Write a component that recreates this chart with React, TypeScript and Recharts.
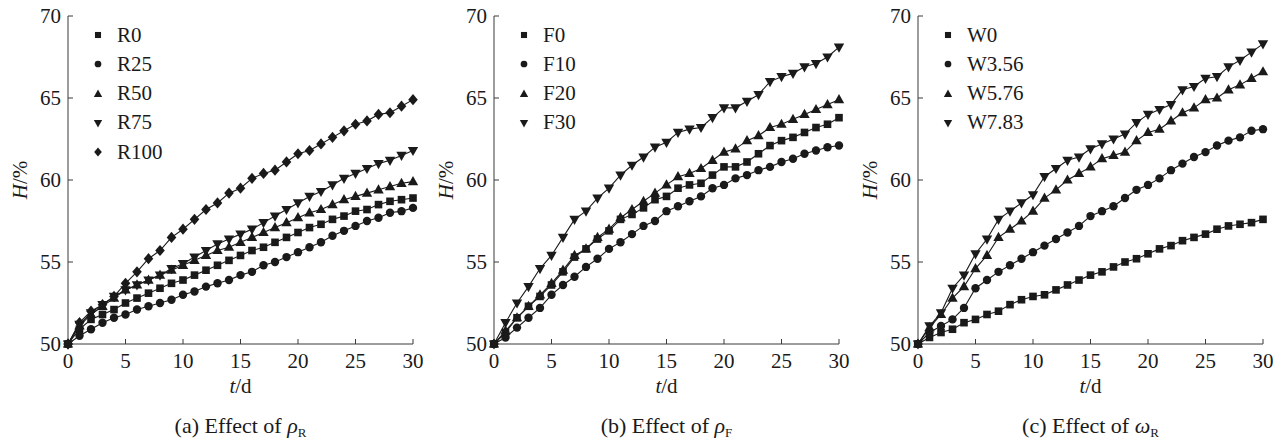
import React from 'react';
import { LineChart, Line, XAxis, YAxis, Legend } from 'recharts';

const days = [0, 1, 2, 3, 4, 5, 6, 7, 8, 9, 10, 11, 12, 13, 14, 15, 16, 17, 18, 19, 20, 21, 22, 23, 24, 25, 26, 27, 28, 29, 30];
const xTicks = [0, 5, 10, 15, 20, 25, 30];
const yTicks = [50, 55, 60, 65, 70];

// (a) Effect of rho_R
const R0 = [50, 50.9, 51.5, 51.8, 52.1, 52.5, 52.8, 53.1, 53.4, 53.7, 53.9, 54.2, 54.5, 54.8, 55.1, 55.4, 55.7, 55.9, 56.2, 56.5, 56.8, 57.1, 57.3, 57.6, 57.8, 58.1, 58.2, 58.5, 58.7, 58.8, 58.9];
const R25 = [50, 50.5, 50.9, 51.3, 51.6, 51.8, 52.1, 52.3, 52.5, 52.7, 53.0, 53.2, 53.5, 53.7, 53.9, 54.2, 54.4, 54.8, 55.0, 55.3, 55.6, 55.9, 56.2, 56.6, 56.9, 57.2, 57.5, 57.7, 58.0, 58.1, 58.3];
const R50 = [50, 51.1, 51.8, 52.3, 52.8, 53.3, 53.6, 53.9, 54.2, 54.5, 54.8, 55.1, 55.4, 55.7, 55.9, 56.2, 56.5, 56.8, 57.1, 57.4, 57.7, 58.0, 58.2, 58.5, 58.8, 59.0, 59.2, 59.4, 59.6, 59.8, 59.9];
const R75 = [50, 51.2, 51.9, 52.4, 52.9, 53.3, 53.6, 53.9, 54.2, 54.6, 54.9, 55.3, 55.7, 56.1, 56.4, 56.7, 57.0, 57.4, 57.8, 58.2, 58.6, 59.0, 59.3, 59.7, 60.1, 60.4, 60.7, 61.0, 61.2, 61.5, 61.8];
const R100 = [50, 51.3, 52.0, 52.4, 52.9, 53.7, 54.4, 55.2, 55.7, 56.5, 57.0, 57.6, 58.2, 58.6, 59.2, 59.5, 60.1, 60.4, 60.6, 61.1, 61.6, 61.8, 62.2, 62.6, 63.0, 63.4, 63.6, 64.0, 64.1, 64.5, 64.9];

// (b) Effect of rho_F
const F0 = [50, 50.7, 51.6, 52.3, 52.9, 53.6, 54.4, 55.3, 55.8, 56.4, 56.9, 57.6, 57.9, 58.3, 58.8, 59.0, 59.5, 59.7, 59.8, 60.3, 60.8, 60.8, 61.1, 61.6, 62.1, 62.4, 62.6, 62.9, 63.2, 63.4, 63.8];
const F10 = [50, 50.4, 51.0, 51.6, 52.2, 53.0, 53.6, 54.1, 54.7, 55.2, 55.8, 56.2, 56.7, 57.2, 57.5, 58.1, 58.4, 58.7, 59.0, 59.5, 59.7, 60.1, 60.3, 60.6, 60.8, 61.1, 61.3, 61.6, 61.8, 62.0, 62.1];
const F20 = [50, 50.8, 51.6, 52.3, 53.0, 53.7, 54.5, 55.4, 55.8, 56.5, 57.0, 57.7, 58.2, 58.7, 59.2, 59.7, 60.2, 60.4, 60.7, 61.2, 61.7, 61.9, 62.4, 62.7, 63.2, 63.4, 63.7, 64.0, 64.3, 64.6, 64.9];
const F30 = [50, 51.3, 52.5, 53.5, 54.6, 55.4, 56.5, 57.6, 58.1, 58.9, 59.5, 60.3, 60.9, 61.4, 62.0, 62.3, 62.9, 63.1, 63.2, 63.8, 64.4, 64.4, 64.8, 65.2, 66.0, 66.3, 66.5, 66.9, 67.1, 67.5, 68.1];

// (c) Effect of omega_R
const W0 = [50, 50.4, 50.7, 50.9, 51.3, 51.5, 51.8, 52.0, 52.4, 52.7, 52.9, 53.0, 53.3, 53.6, 53.9, 54.2, 54.4, 54.7, 55.0, 55.2, 55.5, 55.8, 56.0, 56.3, 56.5, 56.7, 57.0, 57.2, 57.3, 57.4, 57.6];
const W356 = [50, 50.7, 51.1, 51.5, 52.2, 53.4, 53.9, 54.4, 54.8, 55.2, 55.6, 56.0, 56.4, 56.8, 57.2, 57.8, 58.1, 58.4, 58.9, 59.4, 59.7, 60.1, 60.6, 61.0, 61.4, 61.7, 62.1, 62.4, 62.6, 63.0, 63.1];
const W576 = [50, 51.0, 51.8, 52.8, 53.5, 54.6, 55.4, 56.5, 57.0, 57.5, 58.1, 58.9, 59.4, 60.0, 60.4, 60.8, 61.3, 61.5, 61.7, 62.4, 62.9, 63.1, 63.6, 64.1, 64.4, 64.9, 65.0, 65.5, 65.8, 66.2, 66.6];
const W783 = [50, 51.1, 51.9, 53.4, 54.2, 55.5, 56.4, 57.6, 58.1, 58.6, 59.1, 60.2, 60.7, 61.2, 61.4, 61.9, 62.2, 62.5, 62.8, 63.5, 64.0, 64.3, 64.6, 65.5, 65.7, 66.2, 66.3, 66.9, 67.3, 67.8, 68.3];

type Shape = 'square' | 'circle' | 'up' | 'down' | 'diamond';
type Series = { name: string; values: number[]; shape: Shape };

const panelA: Series[] = [
  { name: 'R0', values: R0, shape: 'square' },
  { name: 'R25', values: R25, shape: 'circle' },
  { name: 'R50', values: R50, shape: 'up' },
  { name: 'R75', values: R75, shape: 'down' },
  { name: 'R100', values: R100, shape: 'diamond' },
];
const panelB: Series[] = [
  { name: 'F0', values: F0, shape: 'square' },
  { name: 'F10', values: F10, shape: 'circle' },
  { name: 'F20', values: F20, shape: 'up' },
  { name: 'F30', values: F30, shape: 'down' },
];
const panelC: Series[] = [
  { name: 'W0', values: W0, shape: 'square' },
  { name: 'W3.56', values: W356, shape: 'circle' },
  { name: 'W5.76', values: W576, shape: 'up' },
  { name: 'W7.83', values: W783, shape: 'down' },
];

const FONT = '"Liberation Serif", "DejaVu Serif", serif';
const INK = '#1a1a1a';
const AXIS = '#3a3a3a';

function Marker({ shape, cx, cy, s = 1 }: { shape: Shape; cx: number; cy: number; s?: number }) {
  if (cx == null || cy == null || isNaN(cx) || isNaN(cy)) return null;
  switch (shape) {
    case 'square':
      return <rect x={cx - 3.8 * s} y={cy - 3.8 * s} width={7.6 * s} height={7.6 * s} fill={INK} />;
    case 'circle':
      return <circle cx={cx} cy={cy} r={4.2 * s} fill={INK} />;
    case 'up':
      return <path d={`M${cx},${cy - 5.6 * s}L${cx + 5.2 * s},${cy + 3.6 * s}L${cx - 5.2 * s},${cy + 3.6 * s}Z`} fill={INK} />;
    case 'down':
      return <path d={`M${cx},${cy + 5.6 * s}L${cx + 5.2 * s},${cy - 3.6 * s}L${cx - 5.2 * s},${cy - 3.6 * s}Z`} fill={INK} />;
    case 'diamond':
      return <path d={`M${cx},${cy - 5.6 * s}L${cx + 4.8 * s},${cy}L${cx},${cy + 5.6 * s}L${cx - 4.8 * s},${cy}Z`} fill={INK} />;
  }
  return null;
}

function XTitle({ viewBox, caption }: any) {
  const { x, y, width } = viewBox || {};
  const cx = x + width / 2;
  return (
    <g style={{ fontFamily: FONT }} fill={INK}>
      <text x={cx} y={y + 49} textAnchor="middle" fontSize={21} style={{ fontFamily: FONT }}>
        <tspan fontStyle="italic">t</tspan>/d
      </text>
      <text x={cx} y={y + 89} textAnchor="middle" fontSize={22} style={{ fontFamily: FONT }}>
        {caption}
      </text>
    </g>
  );
}

function YTitle({ viewBox }: any) {
  const { x, y, width, height } = viewBox || {};
  const px = x + width - 41;
  const py = y + height / 2;
  return (
    <text x={px} y={py} transform={`rotate(-90 ${px} ${py})`} textAnchor="middle" style={{ fontFamily: FONT }} fontSize={21} fill={INK}>
      <tspan fontStyle="italic">H</tspan>/%
    </text>
  );
}

function makeLegend(series: Series[]) {
  return () => (
    <div style={{ fontFamily: FONT, fontSize: 21, color: INK }}>
      {series.map((s) => (
        <div key={s.name} style={{ display: 'flex', alignItems: 'center', height: 29.3, lineHeight: '29.3px' }}>
          <svg width={16} height={16} style={{ display: 'block' }}>
            <Marker shape={s.shape} cx={8} cy={8} s={0.8} />
          </svg>
          <span style={{ marginLeft: 11 }}>{s.name}</span>
        </div>
      ))}
    </div>
  );
}

const tickStyle = { fontSize: 21, fill: INK, style: { fontFamily: FONT } };

function Panel({ series, caption, left }: { series: Series[]; caption: React.ReactNode; left: number }) {
  const data = days.map((d, i) => {
    const row: Record<string, number> = { t: d };
    series.forEach((s) => {
      row[s.name] = s.values[i];
    });
    return row;
  });
  return (
    <div style={{ position: 'absolute', left, top: 0, fontFamily: FONT }}>
      <LineChart width={430} height={441} data={data} margin={{ top: 16, right: 17, bottom: 0, left: 0 }} style={{ fontFamily: FONT }}>
        <XAxis
          dataKey="t"
          type="number"
          domain={[0, 30]}
          ticks={xTicks}
          interval={0}
          height={97}
          tickSize={-5}
          tickMargin={14}
          stroke={AXIS}
          axisLine={{ stroke: AXIS, strokeWidth: 1 }}
          tickLine={{ stroke: AXIS }}
          tick={tickStyle}
          label={<XTitle caption={caption} />}
        />
        <XAxis xAxisId="top" orientation="top" type="number" domain={[0, 30]} height={0} tick={false} tickLine={false} axisLine={{ stroke: AXIS }} />
        <YAxis
          type="number"
          domain={[50, 70]}
          ticks={yTicks}
          interval={0}
          width={68}
          tickSize={-5}
          tickMargin={12}
          axisLine={{ stroke: AXIS, strokeWidth: 1 }}
          tickLine={{ stroke: AXIS }}
          tick={tickStyle}
          label={<YTitle />}
        />
        <YAxis yAxisId="right" orientation="right" type="number" domain={[50, 70]} width={0} tick={false} tickLine={false} axisLine={{ stroke: AXIS }} />
        <Legend
          layout="vertical"
          align="center"
          verticalAlign="middle"
          content={makeLegend(series)}
          wrapperStyle={{ position: 'absolute', left: 90, top: 20.5, width: 'auto', height: 'auto' }}
        />
        {series.map((s) => (
          <Line
            key={s.name}
            dataKey={s.name}
            name={s.name}
            type="linear"
            stroke={INK}
            strokeWidth={1.1}
            isAnimationActive={false}
            dot={(p: any) => <Marker key={`${s.name}-${p.index}`} shape={s.shape} cx={p.cx} cy={p.cy} />}
            activeDot={false}
          />
        ))}
      </LineChart>
    </div>
  );
}

const capA = (
  <>
    (a) Effect of <tspan fontStyle="italic">ρ</tspan>
    <tspan fontSize={13} dy={4}>R</tspan>
  </>
);
const capB = (
  <>
    (b) Effect of <tspan fontStyle="italic">ρ</tspan>
    <tspan fontSize={13} dy={4}>F</tspan>
  </>
);
const capC = (
  <>
    (c) Effect of <tspan fontStyle="italic">ω</tspan>
    <tspan fontSize={13} dy={4}>R</tspan>
  </>
);

export default function App() {
  return (
    <div style={{ position: 'absolute', left: 0, top: 0, width: 1284, height: 441, background: '#fff', overflow: 'hidden', fontFamily: FONT }}>
      <Panel series={panelA} caption={capA} left={0} />
      <Panel series={panelB} caption={capB} left={426} />
      <Panel series={panelC} caption={capC} left={850} />
    </div>
  );
}
